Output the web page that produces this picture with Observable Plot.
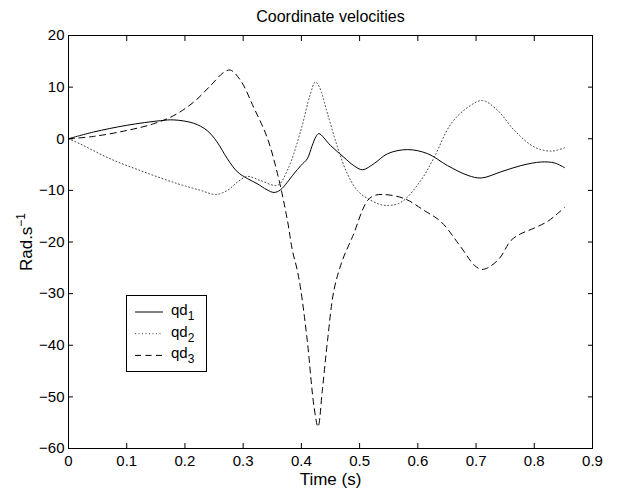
<!DOCTYPE html>
<html><head><meta charset="utf-8">
<script src="https://cdn.jsdelivr.net/npm/d3@7"></script>
<script src="https://cdn.jsdelivr.net/npm/@observablehq/plot@0.6"></script>
<style>body{margin:0;background:#fff;} svg{display:block}</style>
</head><body><div id="chart"></div>
<script>
const chartTitle = "Coordinate velocities";
const xLabel = "Time (s)";
const yLabel = "Rad.s";
const yLabelSup = "\u22121";
const xTicks = [0, 0.1, 0.2, 0.3, 0.4, 0.5, 0.6, 0.7, 0.8, 0.9];
const yTicks = [20, 10, 0, -10, -20, -30, -40, -50, -60];
const seriesNames = ["qd", "qd", "qd"];
const seriesSubs = ["1", "2", "3"];
const seriesDash = [null, "1,2.5", "6,4.5"];
const seriesColor = ["black", "#444", "black"];

const qd1T = [0, .043, .10, .158, .181, .215, .238, .255, .273, .29, .307, .324, .341, .353, .364, .387, .399, .41, .418, .425, .430, .45, .473, .49, .505, .525, .548, .582, .617, .651, .686, .709, .743, .777, .812, .835, .852];
const qd1V = [0, 1.3, 2.6, 3.5, 3.65, 3.0, 1.6, -0.6, -3.9, -6.4, -7.7, -8.7, -9.9, -10.4, -9.9, -6.8, -5.2, -3.9, -1.5, 0.4, 1.0, -1.3, -3.6, -5.2, -6.0, -4.8, -2.9, -2.1, -2.9, -5.2, -7.1, -7.6, -6.4, -5.2, -4.5, -4.7, -5.6];

const qd2T = [0, .02, .072, .129, .187, .227, .2525, .273, .29, .307, .33, .359, .376, .399, .415, .424, .431, .445, .462, .479, .496, .514, .542, .571, .605, .628, .657, .686, .711, .737, .766, .80, .829, .852];
const qd2V = [0, -1.0, -3.9, -6.4, -8.7, -10.0, -10.8, -10.0, -8.4, -7.3, -8.1, -9.0, -6.1, 1.6, 8.5, 11.0, 10.0, 4.8, -1.6, -6.8, -10.0, -11.6, -12.9, -12.3, -8.1, -3.6, 2.9, 6.1, 7.4, 5.5, 1.6, -1.6, -2.4, -1.75];

const qd3T = [0, .043, .10, .146, .181, .215, .244, .267, .278, .2955, .318, .341, .359, .376, .3845, .393, .399, .41, .4217, .4286, .436, .445, .456, .4706, .485, .49, .505, .514, .525, .542, .577, .611, .64, .674, .697, .709, .72, .74, .76, .777, .80, .823, .84, .852];
const qd3V = [0, 0.45, 1.6, 2.9, 4.5, 7.1, 10.3, 12.9, 13.3, 11.3, 6.1, 0.3, -6.8, -15.8, -21.6, -25.5, -29.3, -39, -51.9, -55.8, -48.7, -39, -29.3, -23.5, -19.7, -18.4, -13.8, -11.9, -11.0, -10.8, -11.6, -13.9, -16.1, -21, -24.5, -25.3, -25, -23.2, -19.7, -18.4, -17.3, -16, -14.5, -13.3];

const allT = [qd1T, qd2T, qd3T];
const allV = [qd1V, qd2V, qd3V];
const series = allT.map((T, k) => T.map((t, i) => ({t, v: allV[k][i]})));

const font = "'Liberation Sans', Arial, Helvetica, sans-serif";
const inTick = -5;
const fmtX = d => String(d);
const fmtY = d => d < 0 ? "\u2212" + String(-d) : String(d);

const plot = Plot.plot({
  width: 620, height: 491,
  marginLeft: 68, marginRight: 28, marginTop: 35, marginBottom: 43,
  style: {fontFamily: font, fontSize: "15px", background: "white", color: "black", overflow: "visible"},
  x: {domain: [0, 0.9], label: null},
  y: {domain: [-60, 20], label: null},
  marks: [
    ...series.map((d, k) => Plot.line(d, {x: "t", y: "v", stroke: seriesColor[k], strokeWidth: 1, strokeDasharray: seriesDash[k], curve: "catmull-rom"})),
    Plot.frame({stroke: "black", strokeWidth: 1}),
    Plot.axisX(xTicks, {anchor: "bottom", tickSize: 0, tickPadding: 7, label: null, fontSize: 15, tickFormat: fmtX}),
    Plot.axisX(xTicks, {anchor: "bottom", tickSize: inTick, tickFormat: () => "", label: null}),
    Plot.axisX(xTicks, {anchor: "top", tickSize: inTick, tickFormat: () => "", label: null}),
    Plot.axisY(yTicks, {anchor: "left", tickSize: 0, tickPadding: 4, label: null, fontSize: 15, tickFormat: fmtY}),
    Plot.axisY(yTicks, {anchor: "left", tickSize: inTick, tickFormat: () => "", label: null}),
    Plot.axisY(yTicks, {anchor: "right", tickSize: inTick, tickFormat: () => "", label: null}),
    Plot.text([chartTitle], {frameAnchor: "top", dy: -19, fontSize: 16, lineAnchor: "middle", textAnchor: "middle"}),
    Plot.text([xLabel], {frameAnchor: "bottom", dy: 31, fontSize: 17, lineAnchor: "middle", textAnchor: "middle"}),
    Plot.text([yLabel], {frameAnchor: "left", dx: -42, rotate: -90, fontSize: 17, lineAnchor: "middle", textAnchor: "middle"})
  ]
});
document.getElementById("chart").appendChild(plot);

const svg = d3.select(plot);
svg.selectAll("text").filter(function() { return this.textContent === yLabel; })
  .append("tspan").attr("dy", "-0.55em").attr("font-size", 12).text(yLabelSup);

// legend
const lg = svg.append("g").attr("font-family", font).attr("font-size", 15).attr("text-anchor", "start");
lg.append("rect").attr("x", 126.5).attr("y", 295.5).attr("width", 80).attr("height", 76)
  .attr("fill", "white").attr("stroke", "black");
seriesNames.forEach((name, k) => {
  const yy = 312 + k * 21.7;
  lg.append("line").attr("x1", 135).attr("x2", 163).attr("y1", yy).attr("y2", yy)
    .attr("stroke", seriesColor[k]).attr("stroke-width", 1).attr("stroke-dasharray", seriesDash[k]);
  const t = lg.append("text").attr("x", 171).attr("y", yy + 3).attr("text-anchor", "start");
  t.append("tspan").text(name);
  t.append("tspan").attr("dy", 5).attr("font-size", 12).text(seriesSubs[k]);
});
</script>
</body></html>
